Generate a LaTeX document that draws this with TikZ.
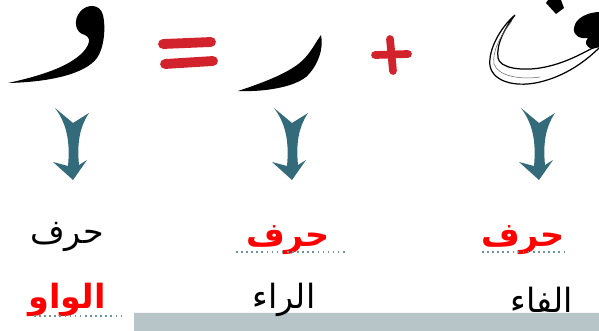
\documentclass[tikz,border=0pt]{standalone}
\usepackage{fontspec}
\newfontfamily\arabicfont[Script=Arabic]{DejaVu Sans}
\TeXXeTstate=1
\definecolor{signred}{RGB}{210,35,45}
\definecolor{arrowteal}{RGB}{52,107,122}
\definecolor{dotblue}{RGB}{110,145,158}
\definecolor{bargray}{RGB}{183,196,200}
\tikzset{
  word/.style={font=\arabicfont\fontsize{19}{22}\selectfont, inner sep=0pt},
  redword/.style={word, text=red, font=\arabicfont\bfseries\fontsize{19}{22}\selectfont},
  underdots/.style={dotblue, dotted, line width=0.9pt},
  sign/.style={signred, line width=5.6pt, line cap=round},
}
\begin{document}
\begin{tikzpicture}[x=0.02cm,y=-0.02cm]
    \useasboundingbox (0,0) rectangle (599,331);

    % Bottom bar
    \fill[bargray] (134,312) rectangle (599,331);
    \draw[white!85!bargray, line width=0.6pt] (134,312.3) -- (599,312.3);

    % Waw
    \fill[black] (8,83) .. controls (40,76) and (78,65) .. (88,45)
        .. controls (90,40) and (89,37) .. (85,35)
        .. controls (75,33) and (73,20) .. (80,12)
        .. controls (86,4) and (100,3) .. (103,15)
        .. controls (106,28) and (104,48) .. (97,58)
        .. controls (85,74) and (50,82) .. (8,83) -- cycle;

    % Equals sign
    \draw[sign] (163,44) -- (211,42);
    \draw[sign] (165,64) -- (213,61);

    % Ra
    \fill[black] (238,91) .. controls (265,82) and (292,72) .. (305,58)
        .. controls (312,50) and (316,42) .. (321,35)
        .. controls (324,48) and (318,66) .. (306,77)
        .. controls (292,88) and (262,92) .. (238,91) -- cycle;

    % Plus sign
    \draw[sign, line width=4.4pt] (375,55) -- (408,54);
    \draw[sign, line width=4.4pt] (390,39) -- (393,71);

    % Fa: outlined body
    \filldraw[fill=white, draw=black, line width=0.7pt] (515,15)
        .. controls (500,28) and (488,50) .. (490,66)
        .. controls (494,84) and (520,87) .. (540,82)
        .. controls (565,76) and (585,62) .. (600,47)
        -- (600,44)
        .. controls (585,52) and (565,64) .. (540,68)
        .. controls (520,71) and (500,68) .. (498,58)
        .. controls (496,44) and (505,28) .. (515,15) -- cycle;
    \draw[black!60, line width=0.3pt] (512,21) .. controls (500,36) and (492,52) .. (494,64)
        .. controls (498,76) and (520,80) .. (540,77);
    % Fa: head and dot
    \fill[black] (600,12) .. controls (588,12) and (575,18) .. (574,28)
        .. controls (573,36) and (580,39) .. (588,38)
        .. controls (584,42) and (586,47) .. (592,49)
        -- (600,47) -- cycle;
    \fill[black] (546,3) -- (556,14) -- (564,8) -- (561,0) -- (548,0) -- cycle;

    % Arrows (tip at the shift point)
    \foreach \tx in {73,292,539} {
        \begin{scope}[shift={(\tx,180)}]
            \fill[arrowteal] (0,0) -- (-20,-18) -- (-5,-14)
                .. controls (-3,-35) and (-5,-55) .. (-18,-72)
                -- (0,-57) -- (16,-67)
                .. controls (6,-52) and (4,-35) .. (6,-15)
                -- (14,-20) -- cycle;
        \end{scope}
    }

    % Letter words
    \node[word] (hfWaw) at (67,237) {\beginR حرف\endR};
    \node[redword] (hfRa) at (288,240) {\beginR حرف\endR};
    \node[redword] (hfFa) at (523,240) {\beginR حرف\endR};

    % Letter names
    \node[redword] (nmWaw) at (67,300) {\beginR الواو\endR};
    \node[word] (nmRa) at (284,300) {\beginR الراء\endR};
    \node[word] (nmFa) at (542,300) {\beginR الفاء\endR};

    % Dotted rules
    \draw[underdots] (236,252) -- (347,252);
    \draw[underdots] (482,252) -- (567,252);
    \draw[underdots] (34,316) -- (125,316);
\end{tikzpicture}
\end{document}
